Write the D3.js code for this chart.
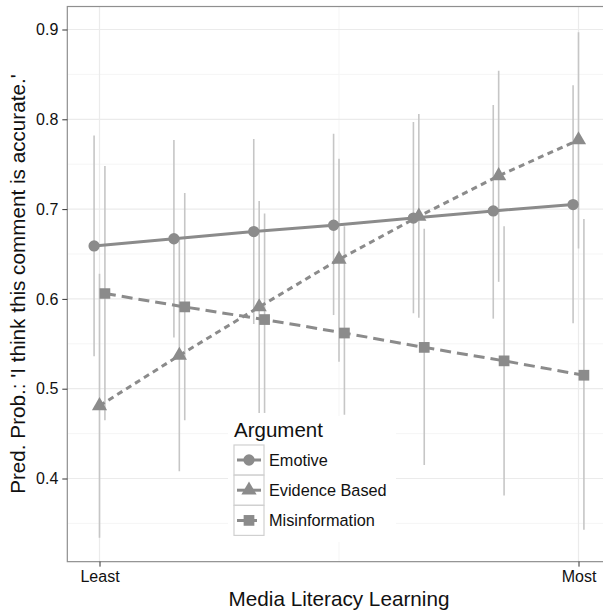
<!DOCTYPE html>
<html><head><meta charset="utf-8">
<script src="https://cdn.jsdelivr.net/npm/d3@7"></script>
<style>body{margin:0;background:#fff}svg{display:block}</style>
</head><body><svg id="c" width="603" height="615"></svg>
<script>
// ---- data ----
const levels = [0, 1/6, 2/6, 3/6, 4/6, 5/6, 1];
const xTickValues = [0, 1];
const xTickLabels = ["Least", "Most"];
const yTicks = [0.4, 0.5, 0.6, 0.7, 0.8, 0.9];
const yMinorVals = [0.35, 0.45, 0.55, 0.65, 0.75, 0.85];
const seriesNames = ["Emotive", "Evidence Based", "Misinformation"];
const emotiveMean  = [0.659, 0.667, 0.675, 0.682, 0.690, 0.698, 0.705];
const emotiveLow   = [0.536, 0.557, 0.572, 0.582, 0.584, 0.578, 0.573];
const emotiveHigh  = [0.782, 0.777, 0.778, 0.784, 0.797, 0.816, 0.838];
const evidenceMean = [0.481, 0.537, 0.591, 0.644, 0.692, 0.737, 0.777];
const evidenceLow  = [0.334, 0.408, 0.473, 0.530, 0.579, 0.619, 0.656];
const evidenceHigh = [0.628, 0.667, 0.709, 0.756, 0.806, 0.854, 0.897];
const misinfoMean  = [0.606, 0.591, 0.577, 0.562, 0.546, 0.531, 0.515];
const misinfoLow   = [0.465, 0.465, 0.473, 0.471, 0.415, 0.381, 0.343];
const misinfoHigh  = [0.748, 0.718, 0.695, 0.681, 0.678, 0.681, 0.689];

const series = [
  {name: seriesNames[0], mean: emotiveMean, low: emotiveLow, high: emotiveHigh, shape: d3.symbolCircle, dash: null, dodge: -1},
  {name: seriesNames[1], mean: evidenceMean, low: evidenceLow, high: evidenceHigh, shape: d3.symbolTriangle, dash: "6,4.5", dodge: 0},
  {name: seriesNames[2], mean: misinfoMean, low: misinfoLow, high: misinfoHigh, shape: d3.symbolSquare, dash: "11,6", dodge: 1}
];

// ---- layout ----
const svg = d3.select("#c");
const x = d3.scaleLinear().domain([0, 1]).range([99.5, 578.5]);
const y = d3.scaleLinear().domain([0.4, 0.9]).range([478.5, 29.5]);
const xPad = 0.0672, yTop = 0.9256, yBot = 0.3074;
const dodgeW = 0.0113;
const pL = x(-xPad), pR = x(1 + xPad), pT = y(yTop), pB = y(yBot);
const pointCol = "#8b8b8b", errCol = "#c6c6c6";
const font = "'Liberation Sans', Arial, Helvetica, sans-serif";

const defs = svg.append("defs");
defs.append("clipPath").attr("id", "pc").append("rect")
  .attr("x", pL).attr("y", pT).attr("width", pR - pL).attr("height", pB - pT);

svg.append("rect").attr("x", pL).attr("y", pT).attr("width", pR - pL).attr("height", pB - pT).attr("fill", "#fff");

const grid = svg.append("g").attr("clip-path", "url(#pc)");
grid.selectAll(".ym").data(yMinorVals).join("line")
  .attr("x1", pL).attr("x2", pR).attr("y1", d => y(d)).attr("y2", d => y(d))
  .attr("stroke", "#f5f5f5").attr("stroke-width", 1);
grid.append("line").attr("x1", x(0.5)).attr("x2", x(0.5)).attr("y1", pT).attr("y2", pB)
  .attr("stroke", "#f5f5f5").attr("stroke-width", 1);
grid.selectAll(".yM").data(yTicks).join("line")
  .attr("x1", pL).attr("x2", pR).attr("y1", d => y(d)).attr("y2", d => y(d))
  .attr("stroke", "#ebebeb").attr("stroke-width", 1.2);
grid.selectAll(".xM").data(xTickValues).join("line")
  .attr("x1", d => x(d)).attr("x2", d => x(d)).attr("y1", pT).attr("y2", pB)
  .attr("stroke", "#ebebeb").attr("stroke-width", 1.2);

const plot = svg.append("g").attr("clip-path", "url(#pc)");
series.forEach(s => {
  plot.append("g").selectAll("line").data(levels).join("line")
    .attr("x1", d => x(d + s.dodge * dodgeW)).attr("x2", d => x(d + s.dodge * dodgeW))
    .attr("y1", (d, i) => y(s.low[i])).attr("y2", (d, i) => y(s.high[i]))
    .attr("stroke", errCol).attr("stroke-width", 1.6);
});
series.forEach(s => {
  const line = d3.line().x(d => x(d + s.dodge * dodgeW)).y((d, i) => y(s.mean[i]));
  plot.append("path").datum(levels).attr("d", line)
    .attr("fill", "none").attr("stroke", pointCol).attr("stroke-width", 3)
    .attr("stroke-dasharray", s.dash);
});
const symSize = {Emotive: 100, "Evidence Based": 100, Misinformation: 115};
series.forEach(s => {
  const sym = d3.symbol().type(s.shape).size(symSize[s.name]);
  plot.append("g").selectAll("path").data(levels).join("path")
    .attr("d", sym)
    .attr("transform", (d, i) => `translate(${x(d + s.dodge * dodgeW)},${y(s.mean[i])})`)
    .attr("fill", pointCol);
});

svg.append("rect").attr("x", pL).attr("y", pT).attr("width", pR - pL).attr("height", pB - pT)
  .attr("fill", "none").attr("stroke", "#8f8f8f").attr("stroke-width", 1.2);

const yAxis = d3.axisLeft(y).tickValues(yTicks).tickSize(5).tickPadding(4).tickFormat(d3.format(".1f"));
const ya = svg.append("g").attr("transform", `translate(${pL},0)`).call(yAxis);
ya.select(".domain").remove();
ya.selectAll("line").attr("stroke", "#333");
ya.selectAll("text").attr("font-family", font).attr("font-size", 16).attr("fill", "#111");

const xAxis = d3.axisBottom(x).tickValues(xTickValues).tickSize(5).tickPadding(4)
  .tickFormat((d, i) => xTickLabels[i]);
const xa = svg.append("g").attr("transform", `translate(0,${pB})`).call(xAxis);
xa.select(".domain").remove();
xa.selectAll("line").attr("stroke", "#333");
xa.selectAll("text").attr("font-family", font).attr("font-size", 16).attr("fill", "#111");

svg.append("text").attr("x", (pL + pR) / 2).attr("y", 606).attr("text-anchor", "middle")
  .attr("font-family", font).attr("font-size", 20.7).attr("fill", "#111").text("Media Literacy Learning");
svg.append("text").attr("transform", `translate(25,${(pT + pB) / 2}) rotate(-90)`).attr("text-anchor", "middle")
  .attr("font-family", font).attr("font-size", 20.7).attr("fill", "#111")
  .text("Pred. Prob.: 'I think this comment is accurate.'");

// legend
const lg = svg.append("g").attr("transform", "translate(228,416)");
lg.append("rect").attr("x", 0).attr("y", 0).attr("width", 168).attr("height", 126).attr("fill", "#fff");
lg.append("text").attr("x", 6).attr("y", 21).attr("font-family", font).attr("font-size", 20.5)
  .attr("fill", "#111").text("Argument");
series.forEach((s, i) => {
  const ky = 29 + i * 30.2;
  const g = lg.append("g").attr("transform", `translate(6,${ky})`);
  g.append("rect").attr("x", 0).attr("y", 0).attr("width", 30).attr("height", 30)
    .attr("fill", "#fff").attr("stroke", "#d0d0d0").attr("stroke-width", 1.2);
  g.append("line").attr("x1", 3).attr("x2", 27).attr("y1", 15).attr("y2", 15)
    .attr("stroke", pointCol).attr("stroke-width", 3)
    .attr("stroke-dasharray", i === 2 ? "8,4" : null);
  g.append("path").attr("d", d3.symbol().type(s.shape).size(symSize[s.name]))
    .attr("transform", "translate(15,15)").attr("fill", pointCol);
  g.append("text").attr("x", 35).attr("y", 21).attr("font-family", font).attr("font-size", 16.3)
    .attr("fill", "#111").text(s.name);
});
</script></body></html>
